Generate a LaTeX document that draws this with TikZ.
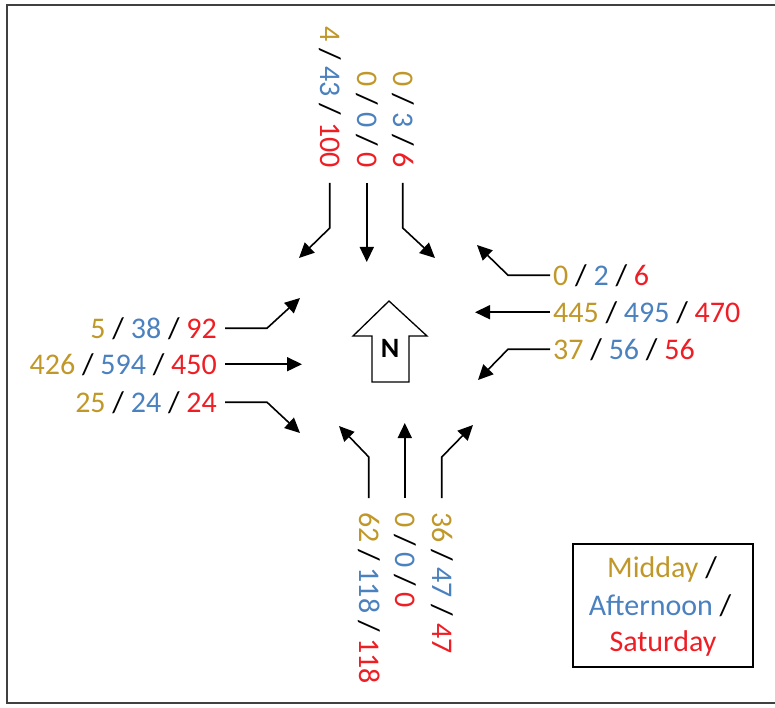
\documentclass[tikz,border=0pt]{standalone}
\usepackage{fontspec}
\setmainfont{Carlito}
\usetikzlibrary{arrows.meta}
\definecolor{cgold}{RGB}{192,152,42}
\definecolor{cblue}{RGB}{74,129,190}
\definecolor{cred}{RGB}{238,30,36}
% one count triple: midday / afternoon / saturday
\newcommand\triplet[3]{\textcolor{cgold}{#1} / \textcolor{cblue}{#2} / \textcolor{cred}{#3}}
\begin{document}
\begin{tikzpicture}[x=1pt,y=-1pt,
  lbl/.style={inner sep=0pt,font=\fontsize{30}{36}\selectfont},
  vlbl/.style={lbl,rotate=-90},
  flow/.style={line width=1.6pt,-{Triangle[length=15pt,width=14pt]}},
  frame/.style={line width=1.5pt,draw=black!75}]
\useasboundingbox (0,0) rectangle (775,708);
\draw[frame] (775,5) -- (7,5) -- (7,703) -- (775,703);

% north approach
\node[vlbl,anchor=base east] (nw) at (320,168) {\triplet{4}{43}{100}};
\node[vlbl,anchor=base east] (nc) at (357,168) {\triplet{0}{0}{0}};
\node[vlbl,anchor=base east] (ne) at (393,168) {\triplet{0}{3}{6}};
\coordinate (tnw) at (299,258);
\coordinate (tne) at (435,258);
\draw[flow] (nw.east) ++(0,15) -- ++(0,45) -- (tnw);
\draw[flow] (nc.east) ++(0,15) -- ++(0,79);
\draw[flow] (ne.east) ++(0,15) -- ++(0,45) -- (tne);

% east approach
\node[lbl,anchor=base west] (e1) at (553,285) {\triplet{0}{2}{6}};
\node[lbl,anchor=base west] (e2) at (553,322) {\triplet{445}{495}{470}};
\node[lbl,anchor=base west] (e3) at (553,359) {\triplet{37}{56}{56}};
\coordinate (te1) at (477,245);
\coordinate (te3) at (478,380);
\draw[flow] (e1.west) ++(-3,0) -- ++(-42,0) -- (te1);
\draw[flow] (e2.west) ++(-3,0) -- ++(-75,0);
\draw[flow] (e3.west) ++(-3,0) -- ++(-42,0) -- (te3);

% west approach
\node[lbl,anchor=base east] (w1) at (217,338) {\triplet{5}{38}{92}};
\node[lbl,anchor=base east] (w2) at (217,374) {\triplet{426}{594}{450}};
\node[lbl,anchor=base east] (w3) at (217,412) {\triplet{25}{24}{24}};
\coordinate (tw1) at (300,298);
\coordinate (tw3) at (300,433);
\draw[flow] (w1.east) ++(8,0) -- ++(42,0) -- (tw1);
\draw[flow] (w2.east) ++(8,0) -- ++(77,0);
\draw[flow] (w3.east) ++(8,0) -- ++(42,0) -- (tw3);

% south approach
\node[vlbl,anchor=base west] (s1) at (359,512) {\triplet{62}{118}{118}};
\node[vlbl,anchor=base west] (s2) at (395,512) {\triplet{0}{0}{0}};
\node[vlbl,anchor=base west] (s3) at (432,512) {\triplet{36}{47}{47}};
\coordinate (ts1) at (339,426);
\coordinate (ts3) at (473,425);
\draw[flow] (s1.west) ++(0,-14) -- ++(0,-41) -- (ts1);
\draw[flow] (s2.west) ++(0,-14) -- ++(0,-75);
\draw[flow] (s3.west) ++(0,-14) -- ++(0,-41) -- (ts3);

% north arrow
\draw[line width=1.3pt,line join=miter]
  (389,301) -- (427,336) -- (409,336) -- (409,382) -- (372,382)
  -- (372,336) -- (353,336) -- cycle;
\node[font=\fontsize{28}{32}\selectfont\bfseries] (north) at (390,348) {N};

% legend
\node[draw,line width=1.4pt,minimum width=180pt,minimum height=123pt,inner sep=0pt]
  (legend) at (663,605.5) {};
\node[lbl,anchor=base] (lg1) at (662,577) {\textcolor{cgold}{Midday} /};
\node[lbl,anchor=base] (lg2) at (660,615) {\textcolor{cblue}{Afternoon} /};
\node[lbl,anchor=base] (lg3) at (663,651) {\textcolor{cred}{Saturday}};
\end{tikzpicture}
\end{document}
